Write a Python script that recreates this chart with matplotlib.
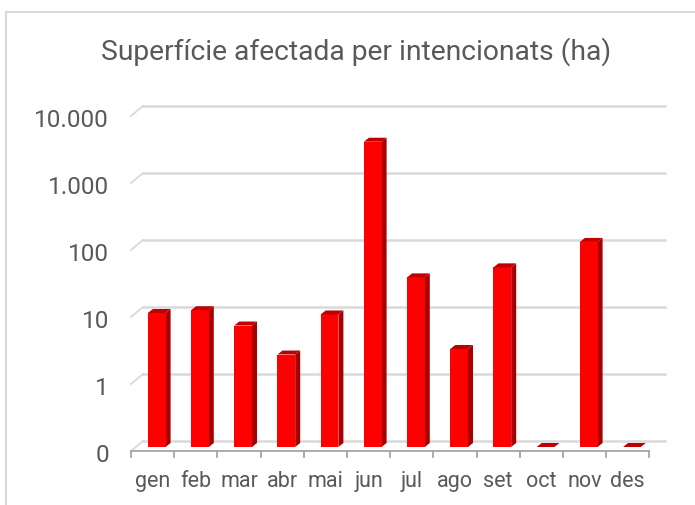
import matplotlib
matplotlib.use("Agg")
import matplotlib.pyplot as plt
from matplotlib.patches import Polygon, Rectangle
from matplotlib.lines import Line2D
import numpy as np

plt.rcParams['font.family'] = ['Roboto', 'DejaVu Sans']

title = "Superfície afectada per intencionats (ha)"
months = ["gen", "feb", "mar", "abr", "mai", "jun", "jul", "ago", "set", "oct", "nov", "des"]
values = [10, 11, 6.5, 2.4, 9.5, 3600, 34, 2.9, 48, 0, 115, 0]
ytick_vals = [0.1, 1, 10, 100, 1000, 10000]
ytick_labels = ["0", "1", "10", "100", "1.000", "10.000"]

TXT = "#595959"
GRID = "#D9D9D9"
AXC = "#A6A6A6"
FRONT = "#FF0000"
SIDE = "#A80000"
TOP = "#C00000"

W, H = 695, 506
fig = plt.figure(figsize=(W / 100, H / 100), dpi=100)

# pixel mapping of bar-front plane: x_px = 136 + 43.2*x ; y_px = 448 - 67*(log10 v + 1)
x0, cw = 136.0, 43.2
y0, dec = 448.0, 67.0
xlim = (-2.5, 12.9)
ylog = (-1.3, 4.5)
left_px = x0 + cw * xlim[0]
right_px = x0 + cw * xlim[1]
bot_px = y0 - dec * (ylog[0] + 1)
top_px = y0 - dec * (ylog[1] + 1)
ax = fig.add_axes([left_px / W, 1 - bot_px / H, (right_px - left_px) / W, (bot_px - top_px) / H])
ax.set_yscale('log')
ax.set_xlim(*xlim)
ax.set_ylim(10 ** ylog[0], 10 ** ylog[1])
ax.axis('off')

def off(dxp, dyp):
    return dxp / cw, 10 ** (dyp / dec)

bdx, bky = off(7, 6)      # back wall relative to bar front plane
fdx, fky = off(-5, -4)    # front axis plane
ddx, dky = off(5, 4)      # bar depth

ncat = len(months)
xb0, xb1 = 0 + bdx, ncat + bdx + 4 / cw
xf0 = 0 + fdx

# back wall gridlines and left wall diagonals
for v in ytick_vals:
    ax.add_line(Line2D([xb0, xb1], [v * bky, v * bky], color=GRID, lw=1.8, clip_on=False, zorder=1))
    ax.add_line(Line2D([xf0, xb0], [v * fky, v * bky], color=GRID, lw=1.3, clip_on=False, zorder=1))

# front axis line and ticks
ymin = ytick_vals[0]
ax.add_line(Line2D([xf0, ncat + fdx], [ymin * fky, ymin * fky], color=AXC, lw=1.3, clip_on=False, zorder=2))
tick_len = 10 ** (-6 / dec)
for i in range(ncat + 1):
    ax.add_line(Line2D([i + fdx, i + fdx], [ymin * fky, ymin * fky * tick_len], color=AXC, lw=1.3,
                       clip_on=False, zorder=2))

# y tick labels
for v, lab in zip(ytick_vals, ytick_labels):
    ax.text(xf0 - 22 / cw, v * fky * 10 ** (-10 / dec), lab, ha='right', va='baseline', color=TXT,
            fontsize=17.5)

# x tick labels
for i, m in enumerate(months):
    ax.text(i + 0.5 + fdx, ymin * fky * 10 ** (-35 / dec), m, ha='center', va='baseline', color=TXT,
            fontsize=15.5)

# bars
bw = 0.41
centers = np.arange(ncat) + 0.48
heights = [max(v, ymin) for v in values]
ax.bar(centers, [h - ymin for h in heights], width=bw, bottom=ymin, color=FRONT,
       edgecolor='none', zorder=5)
for c, h in zip(centers, heights):
    l, r = c - bw / 2, c + bw / 2
    if h > ymin:
        side = Polygon([(r, ymin), (r, h), (r + ddx, h * dky), (r + ddx, ymin * dky)],
                       closed=True, facecolor=SIDE, edgecolor='none', zorder=4)
        ax.add_patch(side)
    top = Polygon([(l, h), (r, h), (r + ddx, h * dky), (l + ddx, h * dky)],
                  closed=True, facecolor=TOP, edgecolor='none', zorder=6)
    ax.add_patch(top)

# title
fig.text(356 / W, 1 - 60 / H, title, ha='center', va='baseline', color=TXT, fontsize=20.3)

# chart border
fig.add_artist(Rectangle((6 / W, -0.1), 1.2, 1 - 13 / H + 0.1, transform=fig.transFigure,
                         fill=False, edgecolor=GRID, lw=1.5))

fig.savefig("out.png", dpi=100)
